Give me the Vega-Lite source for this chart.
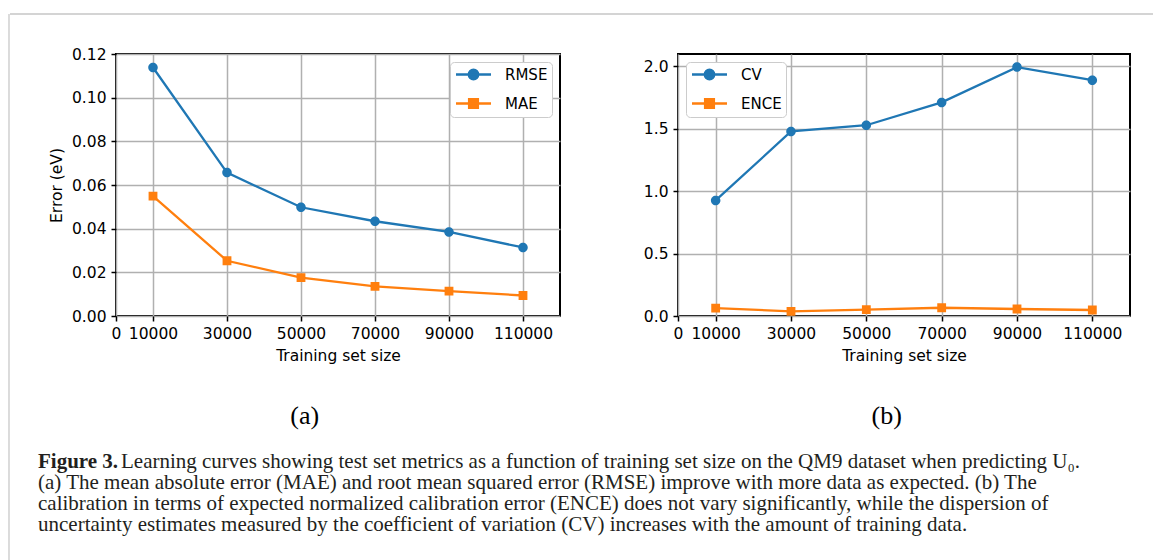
{
  "$schema": "https://vega.github.io/schema/vega-lite/v6.json",
  "background": "white",
  "padding": {"left": 8, "top": 13, "right": 0, "bottom": 0},
  "autosize": {"type": "pad"},
  "datasets": {
    "a": [
      {"size": 10000, "metric": "RMSE", "value": 0.1138},
      {"size": 30000, "metric": "RMSE", "value": 0.0657},
      {"size": 50000, "metric": "RMSE", "value": 0.0498},
      {"size": 70000, "metric": "RMSE", "value": 0.0434},
      {"size": 90000, "metric": "RMSE", "value": 0.0385},
      {"size": 110000, "metric": "RMSE", "value": 0.0314},
      {"size": 10000, "metric": "MAE", "value": 0.0549},
      {"size": 30000, "metric": "MAE", "value": 0.0253},
      {"size": 50000, "metric": "MAE", "value": 0.0176},
      {"size": 70000, "metric": "MAE", "value": 0.0136},
      {"size": 90000, "metric": "MAE", "value": 0.0114},
      {"size": 110000, "metric": "MAE", "value": 0.0094}
    ],
    "b": [
      {"size": 10000, "metric": "CV", "value": 0.926},
      {"size": 30000, "metric": "CV", "value": 1.479},
      {"size": 50000, "metric": "CV", "value": 1.529},
      {"size": 70000, "metric": "CV", "value": 1.712},
      {"size": 90000, "metric": "CV", "value": 1.995},
      {"size": 110000, "metric": "CV", "value": 1.89},
      {"size": 10000, "metric": "ENCE", "value": 0.063},
      {"size": 30000, "metric": "ENCE", "value": 0.037},
      {"size": 50000, "metric": "ENCE", "value": 0.051},
      {"size": 70000, "metric": "ENCE", "value": 0.066},
      {"size": 90000, "metric": "ENCE", "value": 0.056},
      {"size": 110000, "metric": "ENCE", "value": 0.048}
    ],
    "caption": [
      {"line": 1, "part": "head", "text": "Figure 3."},
      {"line": 1, "part": "first", "text": "Learning curves showing test set metrics as a function of training set size on the QM9 dataset when predicting U₀."},
      {"line": 2, "part": "rest", "text": "(a) The mean absolute error (MAE) and root mean squared error (RMSE) improve with more data as expected. (b) The"},
      {"line": 3, "part": "rest", "text": "calibration in terms of expected normalized calibration error (ENCE) does not vary significantly, while the dispersion of"},
      {"line": 4, "part": "rest", "text": "uncertainty estimates measured by the coefficient of variation (CV) increases with the amount of training data."}
    ],
    "blank": [{"k": 1}]
  },
  "bounds": "flush",
  "spacing": 0,
  "hconcat": [
    {
      "width": 1,
      "height": 547,
      "data": {"name": "blank"},
      "mark": {"type": "rule", "color": "#c4c4c4", "strokeWidth": 1.2},
      "encoding": {"x": {"value": 0}}
    },
    {
      "bounds": "full",
      "spacing": 20,
      "vconcat": [
        {
          "bounds": "full",
          "spacing": 31,
          "vconcat": [
            {
              "width": 1145,
              "height": 1,
              "data": {"name": "blank"},
              "mark": {"type": "rule", "color": "#aaaaaa", "strokeWidth": 1.2},
              "encoding": {"y": {"value": 0}}
            },
            {
              "bounds": "flush",
              "spacing": 0,
              "hconcat": [
                {
                  "width": 106,
                  "height": 1,
                  "data": {"name": "blank"},
                  "mark": {"type": "point", "opacity": 0, "size": 1},
                  "encoding": {}
                },
                {
                  "bounds": "flush",
                  "spacing": 118,
                  "hconcat": [
                    {
                      "width": 444,
                      "height": 262,
                      "view": {"stroke": "black", "strokeWidth": 2},
                      "title": {"text": "(a)", "orient": "bottom", "anchor": "middle", "frame": "bounds", "offset": 39, "font": "Liberation Serif", "fontSize": 26, "fontWeight": "normal", "color": "black"},
                      "data": {"name": "a"},
                      "encoding": {
                        "x": {"field": "size", "type": "quantitative", "scale": {"domain": [0, 120000], "nice": false},
                              "axis": {"values": [0, 10000, 30000, 50000, 70000, 90000, 110000], "format": "d", "title": "Training set size"}},
                        "y": {"field": "value", "type": "quantitative", "scale": {"domain": [0, 0.12], "nice": false},
                              "axis": {"values": [0, 0.02, 0.04, 0.06, 0.08, 0.1, 0.12], "format": ".2f", "title": "Error (eV)"}}
                      },
                      "layer": [
                        {
                          "mark": {"type": "line", "strokeWidth": 2.3},
                          "encoding": {
                            "color": {"field": "metric", "type": "nominal", "scale": {"domain": ["RMSE", "MAE", "CV", "ENCE"], "range": ["#1f77b4", "#ff7f0e", "#1f77b4", "#ff7f0e"]}, "legend": null}
                          }
                        },
                        {
                          "mark": {"type": "point", "filled": true, "opacity": 1, "strokeWidth": 0, "size": 196},
                          "encoding": {
                            "fill": {"field": "metric", "type": "nominal", "scale": {"domain": ["RMSE", "MAE", "CV", "ENCE"], "range": ["#1f77b4", "#ff7f0e", "#1f77b4", "#ff7f0e"]},
                                     "legend": {"values": ["RMSE", "MAE"], "orient": "top-right", "offset": 8, "title": null, "padding": 4, "symbolOffset": 11, "labelOffset": 23, "rowPadding": 10, "symbolSize": 196, "symbolStrokeWidth": 2.3, "encode": {"symbols": {"update": {"strokeWidth": {"value": 2.3}}}}}},
                            "stroke": {"field": "metric", "type": "nominal", "scale": {"domain": ["RMSE", "MAE", "CV", "ENCE"], "range": ["#1f77b4", "#ff7f0e", "#1f77b4", "#ff7f0e"]},
                                     "legend": {"values": ["RMSE", "MAE"], "orient": "top-right", "offset": 8, "title": null, "padding": 4, "symbolOffset": 11, "labelOffset": 23, "rowPadding": 10, "symbolSize": 196, "symbolStrokeWidth": 2.3, "encode": {"symbols": {"update": {"strokeWidth": {"value": 2.3}}}}}},
                            "shape": {"field": "metric", "type": "nominal", "scale": {"domain": ["RMSE", "MAE", "CV", "ENCE"], "range": ["M-2.5,0H2.5M0.68,0A0.68,0.68,0,1,1,-0.68,0A0.68,0.68,0,1,1,0.68,0Z", "M-2.5,0H2.5M-0.63,-0.63H0.63V0.63H-0.63Z", "M-2.5,0H2.5M0.68,0A0.68,0.68,0,1,1,-0.68,0A0.68,0.68,0,1,1,0.68,0Z", "M-2.5,0H2.5M-0.63,-0.63H0.63V0.63H-0.63Z"]},
                                     "legend": {"values": ["RMSE", "MAE"], "orient": "top-right", "offset": 8, "title": null, "padding": 4, "symbolOffset": 11, "labelOffset": 23, "rowPadding": 10, "symbolSize": 196, "symbolStrokeWidth": 2.3, "encode": {"symbols": {"update": {"strokeWidth": {"value": 2.3}}}}}}
                          }
                        }
                      ]
                    },
                    {
                      "width": 452,
                      "height": 262,
                      "view": {"stroke": "black", "strokeWidth": 2},
                      "title": {"text": "(b)", "orient": "bottom", "anchor": "middle", "frame": "bounds", "offset": 39, "font": "Liberation Serif", "fontSize": 26, "fontWeight": "normal", "color": "black"},
                      "data": {"name": "b"},
                      "encoding": {
                        "x": {"field": "size", "type": "quantitative", "scale": {"domain": [0, 120000], "nice": false},
                              "axis": {"values": [0, 10000, 30000, 50000, 70000, 90000, 110000], "format": "d", "title": "Training set size"}},
                        "y": {"field": "value", "type": "quantitative", "scale": {"domain": [0, 2.1], "nice": false},
                              "axis": {"values": [0, 0.5, 1, 1.5, 2], "format": ".1f", "title": null}}
                      },
                      "layer": [
                        {
                          "mark": {"type": "line", "strokeWidth": 2.3},
                          "encoding": {
                            "color": {"field": "metric", "type": "nominal", "scale": {"domain": ["RMSE", "MAE", "CV", "ENCE"], "range": ["#1f77b4", "#ff7f0e", "#1f77b4", "#ff7f0e"]}, "legend": null}
                          }
                        },
                        {
                          "mark": {"type": "point", "filled": true, "opacity": 1, "strokeWidth": 0, "size": 196},
                          "encoding": {
                            "fill": {"field": "metric", "type": "nominal", "scale": {"domain": ["RMSE", "MAE", "CV", "ENCE"], "range": ["#1f77b4", "#ff7f0e", "#1f77b4", "#ff7f0e"]},
                                     "legend": {"values": ["CV", "ENCE"], "orient": "top-left", "offset": 8, "title": null, "padding": 4, "symbolOffset": 11, "labelOffset": 23, "rowPadding": 10, "symbolSize": 196, "symbolStrokeWidth": 2.3, "encode": {"symbols": {"update": {"strokeWidth": {"value": 2.3}}}}}},
                            "stroke": {"field": "metric", "type": "nominal", "scale": {"domain": ["RMSE", "MAE", "CV", "ENCE"], "range": ["#1f77b4", "#ff7f0e", "#1f77b4", "#ff7f0e"]},
                                     "legend": {"values": ["CV", "ENCE"], "orient": "top-left", "offset": 8, "title": null, "padding": 4, "symbolOffset": 11, "labelOffset": 23, "rowPadding": 10, "symbolSize": 196, "symbolStrokeWidth": 2.3, "encode": {"symbols": {"update": {"strokeWidth": {"value": 2.3}}}}}},
                            "shape": {"field": "metric", "type": "nominal", "scale": {"domain": ["RMSE", "MAE", "CV", "ENCE"], "range": ["M-2.5,0H2.5M0.68,0A0.68,0.68,0,1,1,-0.68,0A0.68,0.68,0,1,1,0.68,0Z", "M-2.5,0H2.5M-0.63,-0.63H0.63V0.63H-0.63Z", "M-2.5,0H2.5M0.68,0A0.68,0.68,0,1,1,-0.68,0A0.68,0.68,0,1,1,0.68,0Z", "M-2.5,0H2.5M-0.63,-0.63H0.63V0.63H-0.63Z"]},
                                     "legend": {"values": ["CV", "ENCE"], "orient": "top-left", "offset": 8, "title": null, "padding": 4, "symbolOffset": 11, "labelOffset": 23, "rowPadding": 10, "symbolSize": 196, "symbolStrokeWidth": 2.3, "encode": {"symbols": {"update": {"strokeWidth": {"value": 2.3}}}}}}
                          }
                        }
                      ]
                    }
                  ]
                }
              ]
            }
          ]
        },
        {
          "width": 1,
          "height": 84,
          "data": {"name": "caption"},
          "encoding": {
            "y": {"field": "line", "type": "ordinal", "scale": {"domain": [1, 2, 3, 4]}, "axis": null},
            "text": {"field": "text", "type": "nominal"}
          },
          "layer": [
            {
              "transform": [{"filter": "datum.part === 'head'"}],
              "mark": {"type": "text", "align": "left", "baseline": "middle", "font": "Liberation Serif", "fontSize": 21, "fontWeight": "bold", "color": "#231f20"},
              "encoding": {"x": {"value": 28}}
            },
            {
              "transform": [{"filter": "datum.part === 'first'"}],
              "mark": {"type": "text", "align": "left", "baseline": "middle", "font": "Liberation Serif", "fontSize": 21, "color": "#231f20"},
              "encoding": {"x": {"value": 111}}
            },
            {
              "transform": [{"filter": "datum.part === 'rest'"}],
              "mark": {"type": "text", "align": "left", "baseline": "middle", "font": "Liberation Serif", "fontSize": 21, "color": "#231f20"},
              "encoding": {"x": {"value": 28}}
            }
          ]
        }
      ]
    }
  ],
  "config": {
    "view": {"stroke": null},
    "font": "DejaVu Sans",
    "axis": {
      "domain": false,
      "grid": true,
      "gridColor": "#b0b0b0",
      "gridWidth": 1.5,
      "gridOpacity": 1,
      "ticks": true,
      "tickColor": "black",
      "tickWidth": 1.5,
      "tickSize": 5,
      "labelFont": "DejaVu Sans",
      "labelFontSize": 15.5,
      "labelColor": "black",
      "labelPadding": 5,
      "labelFlush": false,
      "labelOverlap": false,
      "titleFont": "DejaVu Sans",
      "titleFontSize": 15.5,
      "titleFontWeight": "normal",
      "titleColor": "black",
      "titlePadding": 7
    },
    "legend": {
      "fillColor": "white",
      "strokeColor": "#cccccc",
      "cornerRadius": 4,
      "labelFont": "DejaVu Sans",
      "labelFontSize": 15,
      "labelColor": "black"
    }
  }
}
